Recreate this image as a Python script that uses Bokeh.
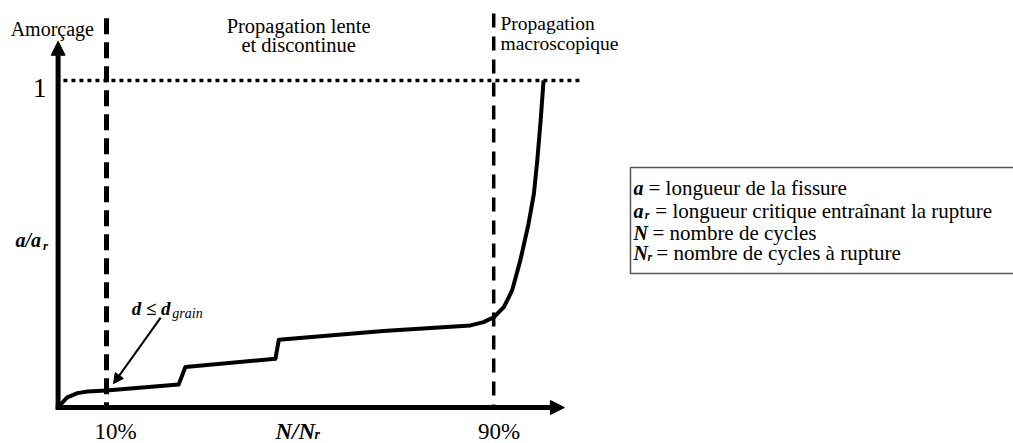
from bokeh.plotting import figure
from bokeh.models import Range1d, Arrow, NormalHead, Label
from bokeh.embed import file_html
from bokeh.resources import INLINE

# ---- data (N/Nr on x, a/ar on y) ----
cycles = [0.0, 0.010, 0.019, 0.040, 0.061, 0.100, 0.249, 0.263, 0.449, 0.456,
          0.672, 0.852, 0.879, 0.900, 0.921, 0.938, 0.955, 0.972, 0.983, 0.990,
          0.997, 1.003]
crack = [0.0, 0.017, 0.031, 0.044, 0.049, 0.052, 0.070, 0.124, 0.149, 0.207,
         0.234, 0.251, 0.261, 0.276, 0.307, 0.358, 0.450, 0.562, 0.653, 0.755,
         0.878, 1.0]
phase_bounds = [0.1, 0.9]
phase_tick_labels = ["10%", "90%"]
critical_ratio = 1.0
stage_titles = [["Propagation lente", "et discontinue"], ["Propagation", "macroscopique"]]
legend_symbols = ["a", "a", "N", "N"]
legend_subs = ["", "r", "", "r"]
legend_texts = ["= longueur de la fissure",
                "= longueur critique entraînant la rupture",
                "= nombre de cycles",
                "= nombre de cycles à rupture"]

# ---- frame ----
W, H = 1013, 443
X0 = -57.6 / 484.0
X1 = X0 + W / 484.0
Y1 = 407.0 / 327.0
Y0 = Y1 - H / 327.0

p = figure(width=W, height=H, x_range=Range1d(X0, X1), y_range=Range1d(Y0, Y1),
           output_backend="svg", toolbar_location=None, min_border=0,
           x_axis_type=None, y_axis_type=None)
p.grid.visible = False
p.outline_line_color = None
p.background_fill_color = "white"
p.border_fill_color = "white"

SERIF = "'Liberation Serif'"

# dotted critical level
p.line([0.011, 1.08], [critical_ratio, critical_ratio], line_color="black",
       line_width=3.5, line_dash="4 4")

# dashed phase boundaries
p.line([phase_bounds[0], phase_bounds[0]], [1.19, 0], line_color="black",
       line_width=5, line_dash="16 8")
p.line([phase_bounds[1], phase_bounds[1]], [1.205, 0], line_color="black",
       line_width=3.5, line_dash="14 9")

# crack growth curve
p.line(cycles, crack, line_color="black", line_width=4, line_join="round")

# axes as arrows
p.add_layout(Arrow(x_start=0, y_start=-0.006, x_end=0, y_end=1.12,
                   line_width=5, line_color="black",
                   end=NormalHead(size=14, fill_color="black", line_color="black")))
p.add_layout(Arrow(x_start=-0.005, y_start=0, x_end=1.046, y_end=0,
                   line_width=5, line_color="black",
                   end=NormalHead(size=14, fill_color="black", line_color="black")))

# annotation arrow
p.add_layout(Arrow(x_start=0.212, y_start=0.275, x_end=0.1145, y_end=0.073,
                   line_width=2, line_color="black",
                   end=NormalHead(size=10, fill_color="black", line_color="black")))


def lab(x, y, text, size, style="normal", align="left"):
    p.add_layout(Label(x=x, y=y, text=text, text_font=SERIF,
                       text_font_size=f"{size}px", text_font_style=style,
                       text_align=align, text_baseline="alphabetic",
                       text_color="black"))


# stage titles
lab(-0.098, 1.156, "Amorçage", 20)
lab(0.497, 1.168, stage_titles[0][0], 20.5, align="center")
lab(0.497, 1.110, stage_titles[0][1], 20.5, align="center")
lab(0.914, 1.174, stage_titles[1][0], 19.5)
lab(0.914, 1.113, stage_titles[1][1], 19.5)

# y-axis annotations
lab(-0.024, 0.976, "1", 27, align="right")
lab(-0.088, 0.511, "a/a", 20, style="bold italic")
lab(-0.031, 0.495, "r", 13, style="bold italic")

# x-axis annotations
lab(0.119, -0.0734, phase_tick_labels[0], 23, align="center")
lab(0.911, -0.0734, phase_tick_labels[1], 23, align="center")
lab(0.449, -0.0734, "N/N", 23, style="bold italic")
lab(0.530, -0.0826, "r", 14, style="bold italic")

# d <= d_grain
lab(0.152, 0.303, "d ≤ d", 19, style="bold italic")
lab(0.236, 0.287, "grain", 14, style="italic")

# legend box
p.quad(left=[1.1826], right=[2.2], top=[0.734], bottom=[0.410],
       fill_color=None, line_color="#555555", line_width=1.5)
rows = [0.670, 0.602, 0.535, 0.471]
text_x = [1.2198, 1.234, 1.228, 1.236]
sub_x = [0, 1.212, 0, 1.218]
for sym, sub, txt, yy, tx, sx in zip(legend_symbols, legend_subs, legend_texts,
                                     rows, text_x, sub_x):
    lab(1.189, yy, sym, 20, style="bold italic")
    if sub:
        lab(sx, yy - 0.012, sub, 12, style="bold italic")
    lab(tx, yy, txt, 21)

open("out.html", "w").write(file_html(p, INLINE))
